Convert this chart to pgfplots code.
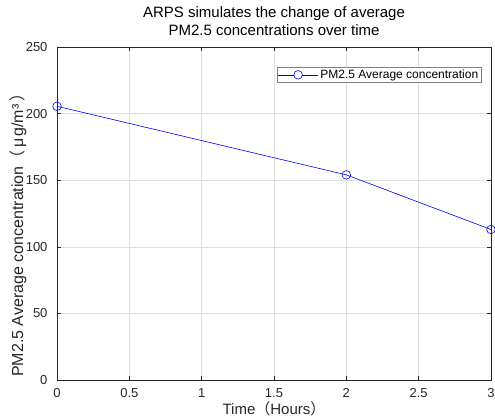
\documentclass[border=0pt]{standalone}
\usepackage{pgfplots}
\pgfplotsset{compat=1.18}
\usepackage{fontspec}
\setmainfont{Liberation Sans}
\newfontfamily\cjk{Noto Sans CJK SC}
\definecolor{axgray}{RGB}{38,38,38}
\definecolor{gridgray}{RGB}{223,223,223}
\begin{document}
\begin{tikzpicture}
\path[use as bounding box] (-57bp,-40bp) rectangle (438bp,380bp);
\begin{axis}[
  scale only axis,
  width=434bp, height=333bp,
  at={(0,0)}, anchor=south west,
  xmin=0, xmax=3, ymin=0, ymax=250,
  xtick={0,0.5,...,3}, ytick={0,50,...,250},
  xticklabels={0,0.5,1,1.5,2,2.5,3},
  grid=major,
  major grid style={gridgray, line width=0.5pt},
  axis line style={axgray, line width=0.5pt},
  tick style={axgray, line width=0.5pt},
  tick align=inside,
  major tick length=4bp,
  ticklabel style={font=\fontsize{13bp}{15bp}\selectfont, text=axgray},
  xticklabel style={yshift=-5bp},
  yticklabel style={xshift=-6bp},
  /pgf/number format/assume math mode=true,
  title style={font=\fontsize{15bp}{18bp}\selectfont, align=center, text=black, yshift=2bp},
  title={ARPS simulates the change of average\\PM2.5 concentrations over time},
  xlabel={Time{\cjk （}Hours{\cjk ）}},
  ylabel={PM2.5 Average concentration{\cjk （}\hspace{3bp}μ\hspace{1.5bp}g/m³\hspace{3bp}{\cjk ）}},
  label style={font=\fontsize{15bp}{17bp}\selectfont, text=axgray},
  xlabel style={yshift=3bp},
  ylabel style={at={(axis description cs:-0.09,0.447)}, anchor=center, font=\fontsize{16bp}{18bp}\selectfont},
  legend style={at={(0.977,0.94)}, anchor=north east, draw=gray, line width=0.5pt,
    font=\fontsize{12bp}{14bp}\selectfont, inner sep=0.5bp},
  legend image code/.code={%
    \draw[blue, line width=0.6pt] (0bp,0bp) -- (40bp,0bp);
    \draw[blue, line width=0.6pt, fill=white] (20bp,0bp) circle (4.3bp);},
  legend cell align=left,
]
\addplot[blue, line width=0.6pt, mark=o, mark size=4.3bp, mark options={line width=0.6pt}]
  coordinates {(0,205.5) (2,154) (3,113)};
\addlegendentry{PM2.5 Average concentration}
\end{axis}
\end{tikzpicture}
\end{document}
